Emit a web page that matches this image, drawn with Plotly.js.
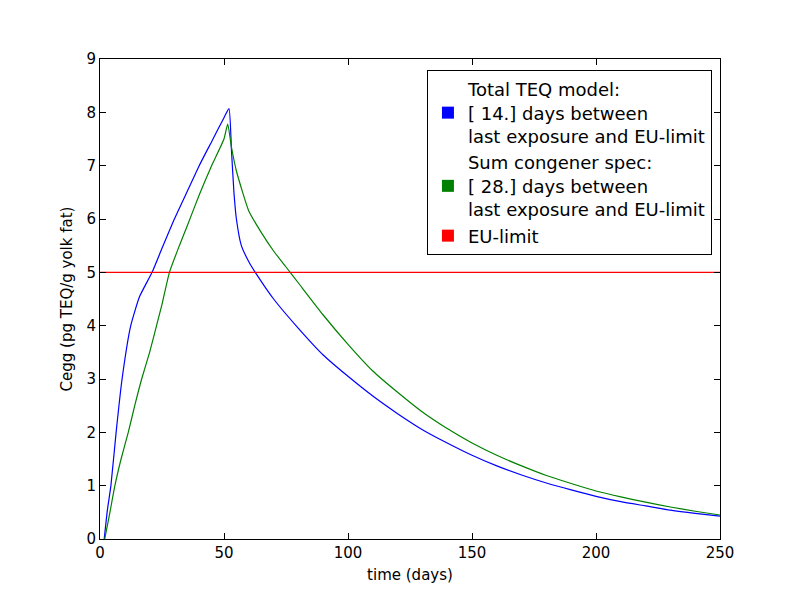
<!DOCTYPE html>
<html>
<head>
<script src="https://cdn.plot.ly/plotly-3.0.1.min.js"></script>
<style>body{margin:0}</style>
</head>
<body>
<div id="chart" style="width:800px;height:600px"></div>
<script>
const blueDays = [1.7,3,4.4,6.5,8.9,12.4,16,21,25,30,35,40,45,50,52,53,54,55,57,60,64,70,80,90,100,110,120,130,140,150,160,170,180,190,200,210,220,230,240,250];
const blueVals = [0,0.55,1,2,3,4,4.55,5,5.45,6.0,6.5,7.0,7.45,7.9,8.07,7.3,6.5,6.0,5.5,5.2,4.9,4.5,3.95,3.45,3.05,2.68,2.35,2.05,1.8,1.57,1.37,1.2,1.05,0.92,0.8,0.7,0.62,0.54,0.48,0.43];
const greenDays = [1.9,4,6,8.5,11.4,14,16.8,20,22.8,25,28,32,35,40,45,50,51.5,53,55,60,65,70,75,80,90,100,110,120,130,140,150,160,170,180,190,200,210,220,230,240,250];
const greenVals = [0,0.5,1,1.5,2,2.5,3,3.5,4,4.4,5,5.5,5.85,6.45,7.0,7.5,7.78,7.35,6.9,6.15,5.75,5.4,5.1,4.8,4.2,3.65,3.15,2.75,2.38,2.07,1.8,1.57,1.37,1.19,1.04,0.9,0.79,0.69,0.6,0.52,0.45];
const euLimit = 5;
const legendNames = [
  'Total TEQ model:<br>[ 14.] days between<br>last exposure and EU-limit',
  'Sum congener spec:<br>[ 28.] days between<br>last exposure and EU-limit',
  'EU-limit'
];
const colors = ['#0000ff', '#008000', '#ff0000'];

const data = [
  {x: blueDays, y: blueVals, mode: 'lines', line: {color: colors[0], width: 1.2, shape: 'spline', smoothing: 0.5}, showlegend: false},
  {x: greenDays, y: greenVals, mode: 'lines', line: {color: colors[1], width: 1.2, shape: 'spline', smoothing: 0.5}, showlegend: false},
  {x: [0, 250], y: [euLimit, euLimit], mode: 'lines', line: {color: colors[2], width: 1.2}, showlegend: false}
];
legendNames.forEach((n, i) => {
  data.push({type: 'bar', x: [-10], y: [0], name: n, marker: {color: colors[i]}, hoverinfo: 'skip'});
});

const axisStyle = {
  showgrid: false, zeroline: false, showline: true, mirror: 'ticks',
  linecolor: 'black', linewidth: 1, ticks: 'inside', ticklen: 6,
  tickcolor: 'black', tickfont: {size: 15}
};

Plotly.newPlot('chart', data, {
  width: 800, height: 600,
  margin: {l: 100, r: 80, t: 59, b: 61},
  font: {family: 'DejaVu Sans', color: 'black'},
  paper_bgcolor: 'white', plot_bgcolor: 'white',
  xaxis: Object.assign({}, axisStyle, {range: [0, 250], dtick: 50, title: {text: 'time (days)', font: {size: 15}, standoff: 8}}),
  yaxis: Object.assign({}, axisStyle, {range: [0, 9], dtick: 1, title: {text: 'Cegg (pg TEQ/g yolk fat)', font: {size: 15}, standoff: 10}}),
  legend: {x: 0.987, y: 0.977, xanchor: 'right', yanchor: 'top', bordercolor: 'black', borderwidth: 1,
    bgcolor: 'white', font: {size: 18}, tracegroupgap: 4},
  showlegend: true
}, {displayModeBar: false});
</script>
</body>
</html>
